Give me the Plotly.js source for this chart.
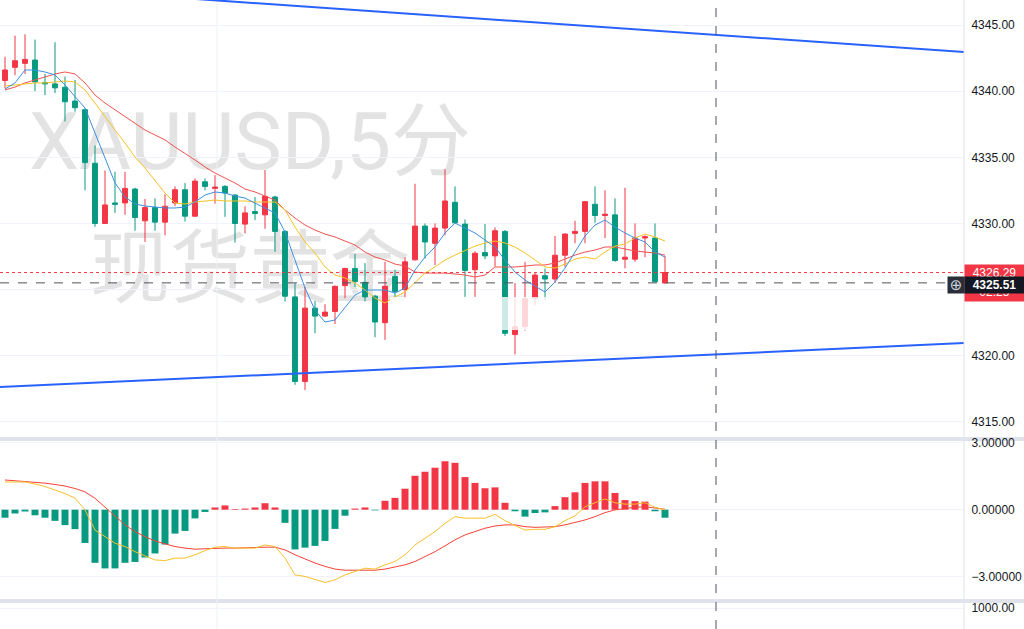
<!DOCTYPE html>
<html><head><meta charset="utf-8">
<script src="https://cdn.plot.ly/plotly-3.0.1.min.js"></script>
<style>html,body{margin:0;padding:0;background:#fff;}#chart{width:1024px;height:629px;}</style>
</head><body><div id="chart"></div>
<script>
// ---- data (XAUUSD 5-minute candles) ----
const openP  = [4340.8,4341.8,4342.1,4342.35,4340.65,4340.55,4340.3,4339.25,4338.6,4334.55,
  4330.0,4331.55,4331.55,4332.6,4330.2,4331.2,4330.1,4331.55,4332.55,4330.55,
  4333.15,4332.65,4332.8,4332.15,4329.95,4330.9,4330.65,4332.0,4329.4,4324.45,
  4318.05,4323.6,4323.0,4323.35,4325.3,4326.6,4325.55,4324.5,4322.5,4326.0,
  4325.0,4327.25,4329.8,4328.5,4329.65,4331.6,4329.95,4326.5,4327.8,4327.55,
  4329.4,4321.6,4322.2,4324.35,4326.05,4325.8,4327.6,4329.25,4329.4,4331.45,
  4330.6,4330.65,4327.3,4327.3,4328.9,4328.9,4325.5];
const highP  = [4342.6,4344.2,4344.3,4343.9,4341.3,4343.7,4341.1,4340.85,4338.7,4335.9,
  4334.0,4333.9,4333.9,4332.7,4331.85,4331.9,4332.2,4332.8,4333.05,4333.4,
  4333.4,4333.65,4332.9,4332.2,4331.3,4332.0,4334.05,4332.1,4329.5,4325.5,
  4325.2,4324.15,4323.9,4325.3,4326.65,4327.7,4327.0,4324.6,4327.1,4326.5,
  4327.45,4333.0,4330.0,4330.0,4334.1,4332.8,4330.3,4327.9,4329.95,4329.7,
  4329.5,4325.5,4327.1,4326.25,4326.6,4329.05,4329.25,4330.2,4331.7,4332.8,
  4332.5,4331.9,4332.7,4330.0,4329.1,4330.0,4327.55];
const lowP   = [4340.2,4341.2,4341.3,4340.0,4339.7,4339.85,4337.7,4338.45,4332.5,4329.75,
  4330.0,4330.8,4330.65,4329.45,4328.6,4329.45,4329.1,4331.3,4330.15,4330.5,
  4332.5,4331.5,4330.5,4328.55,4329.25,4330.25,4329.6,4327.85,4324.1,4317.8,
  4317.4,4321.7,4322.95,4322.4,4324.35,4325.2,4324.1,4321.4,4321.2,4324.35,
  4324.35,4327.2,4327.35,4326.85,4329.1,4330.0,4324.45,4324.45,4327.3,4326.75,
  4321.5,4320.1,4321.9,4323.8,4324.2,4325.5,4326.7,4328.5,4328.5,4330.05,
  4328.9,4327.1,4326.6,4327.1,4327.45,4325.55,4325.45];
const closeP = [4341.6,4342.3,4342.4,4340.7,4340.55,4340.25,4339.2,4338.75,4334.6,4330.0,
  4331.4,4331.45,4332.65,4330.45,4331.2,4330.1,4331.3,4332.55,4330.55,4333.2,
  4332.8,4332.75,4332.3,4330.0,4330.8,4330.75,4332.05,4329.4,4324.5,4318.05,
  4323.6,4323.0,4323.3,4325.25,4326.6,4325.6,4324.45,4322.55,4325.25,4324.85,
  4327.1,4329.8,4328.6,4329.65,4331.7,4330.05,4326.45,4327.75,4327.55,4329.45,
  4321.7,4322.2,4324.3,4326.1,4325.8,4327.6,4329.2,4329.4,4331.65,4330.6,
  4330.7,4327.2,4327.45,4328.9,4329.0,4325.6,4326.29];
const maFast = [4340.16,4340.62,4341.60,4341.60,4341.45,4341.22,4340.46,4339.56,4338.73,4336.84,
  4334.95,4333.06,4332.00,4331.47,4331.32,4331.24,4331.17,4331.17,4331.24,4331.62,
  4332.15,4332.38,4332.30,4332.07,4331.92,4331.54,4331.17,4330.79,4329.35,4327.23,
  4325.12,4323.45,4322.55,4322.70,4323.68,4324.59,4324.97,4324.97,4324.97,4324.74,
  4325.12,4326.48,4327.46,4328.22,4329.28,4330.03,4329.65,4329.28,4328.75,4328.22,
  4327.23,4326.33,4325.72,4325.27,4324.82,4325.57,4326.63,4327.84,4329.05,4329.88,
  4330.26,4329.73,4329.28,4328.90,4328.60,4327.84,4327.46];
const maMid = [4340.39,4340.46,4340.54,4340.62,4340.62,4340.69,4340.77,4340.69,4340.09,4339.10,
  4338.05,4337.06,4336.08,4335.02,4334.19,4333.28,4332.30,4331.55,4331.47,4331.62,
  4331.70,4331.77,4331.70,4331.70,4331.70,4331.62,4331.62,4331.62,4331.02,4329.73,
  4328.60,4327.77,4326.71,4326.10,4325.88,4325.50,4324.97,4324.36,4323.99,4324.44,
  4324.82,4325.57,4326.25,4326.71,4327.24,4327.61,4327.92,4328.29,4328.52,4328.67,
  4328.52,4328.22,4327.77,4327.24,4326.71,4326.63,4326.93,4327.31,4327.46,4327.31,
  4327.84,4328.29,4328.45,4328.90,4329.20,4328.97,4328.67];
const maSlow = [4340.09,4340.31,4340.62,4340.84,4341.07,4341.30,4341.45,4341.30,4340.62,4339.71,
  4339.10,4338.58,4338.05,4337.59,4337.06,4336.69,4336.31,4335.78,4335.32,4334.80,
  4334.27,4333.81,4333.43,4333.06,4332.60,4332.38,4332.07,4331.77,4331.02,4330.41,
  4329.88,4329.50,4329.20,4328.98,4328.67,4328.37,4327.84,4327.46,4327.24,4326.93,
  4326.78,4326.33,4326.25,4326.25,4326.25,4326.18,4326.10,4325.95,4326.10,4326.71,
  4326.71,4326.71,4326.78,4326.86,4326.86,4327.01,4327.31,4327.61,4327.84,4327.99,
  4328.22,4328.22,4328.07,4327.92,4327.84,4327.77,4327.61];
const macdHist = [-0.36,-0.17,-0.08,-0.25,-0.36,-0.50,-0.69,-0.87,-1.49,-2.38,
  -2.63,-2.63,-2.38,-2.34,-2.14,-1.96,-1.56,-1.07,-0.95,-0.39,
  -0.10,0.10,0.19,0.03,0.05,0.10,0.29,0.10,-0.59,-1.78,
  -1.70,-1.62,-1.40,-0.86,-0.27,0.05,0.10,-0.03,0.40,0.53,
  0.94,1.52,1.70,1.88,2.17,2.10,1.46,1.20,0.96,1.00,
  0.31,-0.07,-0.31,-0.15,-0.12,0.16,0.56,0.78,1.20,1.27,
  1.27,0.75,0.43,0.38,0.36,-0.07,-0.36];
const macdDif = [1.24,1.24,1.24,1.15,1.04,0.88,0.72,0.52,-0.01,-0.91,
  -1.21,-1.50,-1.65,-1.88,-2.07,-2.25,-2.28,-2.17,-2.17,-2.02,
  -1.83,-1.68,-1.65,-1.72,-1.72,-1.72,-1.58,-1.65,-2.17,-2.92,
  -2.99,-3.14,-3.26,-3.14,-2.92,-2.77,-2.62,-2.66,-2.47,-2.32,
  -2.02,-1.58,-1.28,-0.98,-0.61,-0.31,-0.38,-0.38,-0.38,-0.21,
  -0.49,-0.71,-0.91,-0.88,-0.88,-0.76,-0.49,-0.28,0.13,0.31,
  0.48,0.31,0.25,0.25,0.31,0.11,-0.01];
const macdDea = [1.33,1.30,1.28,1.24,1.19,1.13,1.06,0.95,0.80,0.51,
  0.13,-0.28,-0.68,-0.98,-1.21,-1.40,-1.53,-1.65,-1.72,-1.77,
  -1.75,-1.72,-1.72,-1.72,-1.70,-1.68,-1.68,-1.68,-1.80,-2.02,
  -2.21,-2.39,-2.54,-2.66,-2.71,-2.71,-2.71,-2.71,-2.66,-2.57,
  -2.47,-2.32,-2.10,-1.88,-1.62,-1.35,-1.13,-0.98,-0.83,-0.73,
  -0.68,-0.68,-0.76,-0.79,-0.79,-0.76,-0.68,-0.58,-0.46,-0.31,
  -0.13,-0.01,0.06,0.11,0.13,0.09,0.02];
const upperTrendX = [0, 96];
const upperTrendY = [4347.96, 4342.96];
const lowerTrendX = [-0.5, 95.9];
const lowerTrendY = [4317.64, 4320.96];
const priceTicks = [4315, 4320, 4325, 4330, 4335, 4340, 4345];
const macdTicks = [-3, 0, 3];
const volTicks = [1000];
const lastPrice = 4326.29;
const crossPrice = 4325.51;
const countdown = '02:25';
const watermark1 = 'XAUUSD,5分';
const watermark2 = '现货黄金';

const barIndex = openP.map((_, i) => i);
const UP = '#f23645', DOWN = '#089981';
const tickFont = {family: 'Liberation Sans, Arial, sans-serif', size: 12, color: '#131722'};
const H = 629, W = 964;
const py = px => 1 - px / H;
const pxX = px => px / W;

const traces = [
  {type: 'candlestick', x: barIndex, open: openP, high: highP, low: lowP, close: closeP,
   increasing: {line: {color: UP, width: 1}, fillcolor: UP},
   decreasing: {line: {color: DOWN, width: 1}, fillcolor: DOWN},
   whiskerwidth: 0, hoverinfo: 'skip', xaxis: 'x', yaxis: 'y'},
  {type: 'scatter', mode: 'lines', x: barIndex, y: maSlow, line: {color: '#ef5350', width: 1}, hoverinfo: 'skip', yaxis: 'y'},
  {type: 'scatter', mode: 'lines', x: barIndex, y: maMid, line: {color: '#f7c325', width: 1}, hoverinfo: 'skip', yaxis: 'y'},
  {type: 'scatter', mode: 'lines', x: barIndex, y: maFast, line: {color: '#3d8fe0', width: 1}, hoverinfo: 'skip', yaxis: 'y'},
  {type: 'scatter', mode: 'lines', x: upperTrendX, y: upperTrendY, line: {color: '#2962ff', width: 2}, hoverinfo: 'skip', yaxis: 'y'},
  {type: 'scatter', mode: 'lines', x: lowerTrendX, y: lowerTrendY, line: {color: '#2962ff', width: 2}, hoverinfo: 'skip', yaxis: 'y'},
  {type: 'bar', x: barIndex, y: macdHist, marker: {color: macdHist.map(v => v >= 0 ? UP : DOWN)}, hoverinfo: 'skip', yaxis: 'y2'},
  {type: 'scatter', mode: 'lines', x: barIndex, y: macdDea, line: {color: '#f44336', width: 1}, hoverinfo: 'skip', yaxis: 'y2'},
  {type: 'scatter', mode: 'lines', x: barIndex, y: macdDif, line: {color: '#fbc02d', width: 1}, hoverinfo: 'skip', yaxis: 'y2'},
  // empty trace so the volume pane (axis y3) is created and its tick label drawn
  {type: 'scatter', mode: 'lines', x: [], y: [], hoverinfo: 'skip', yaxis: 'y3'}
];

const wmFont = {family: 'Roboto, "Noto Sans CJK SC", sans-serif', size: 80, color: '#e3e3e3'};
const shapes = [
  {type: 'rect', xref: 'paper', yref: 'paper', x0: 0, x1: 1024 / W, y0: py(441), y1: py(437),
   line: {width: 0}, fillcolor: '#e0e3eb', layer: 'below'},
  {type: 'rect', xref: 'paper', yref: 'paper', x0: 0, x1: 1024 / W, y0: py(603), y1: py(599),
   line: {width: 0}, fillcolor: '#e0e3eb', layer: 'below'},
  {type: 'rect', xref: 'paper', yref: 'paper', x0: pxX(30), x1: pxX(470), y0: py(172), y1: py(100),
   line: {width: 0}, fillcolor: 'rgba(0,0,0,0)', layer: 'below',
   label: {text: watermark1, font: wmFont, textposition: 'middle center'}},
  {type: 'rect', xref: 'paper', yref: 'paper', x0: pxX(80), x1: pxX(420), y0: py(305), y1: py(220),
   line: {width: 0}, fillcolor: 'rgba(0,0,0,0)', layer: 'below',
   label: {text: watermark2, font: wmFont, textposition: 'middle center'}},
  {type: 'line', xref: 'paper', yref: 'paper', x0: pxX(217), x1: pxX(217), y0: 0, y1: 1,
   line: {color: '#eef0f5', width: 1}, layer: 'below'},
  {type: 'rect', xref: 'paper', yref: 'paper', x0: pxX(390), x1: pxX(625), y0: py(330), y1: py(297),
   line: {width: 0}, fillcolor: 'rgba(255,255,255,0.8)', layer: 'above'},
  {type: 'line', xref: 'paper', yref: 'y', x0: 0, x1: 1, y0: lastPrice, y1: lastPrice,
   line: {color: UP, width: 1, dash: 'dot'}},
  {type: 'line', xref: 'paper', yref: 'y', x0: 0, x1: pxX(947), y0: crossPrice, y1: crossPrice,
   line: {color: '#50535e', width: 1, dash: 'dash'}},
  {type: 'line', xref: 'paper', yref: 'paper', x0: pxX(716), x1: pxX(716), y0: 0, y1: 1,
   line: {color: '#50535e', width: 1, dash: 'dash'}},
  {type: 'line', xref: 'paper', yref: 'paper', x0: 1, x1: 1, y0: 0, y1: 1,
   line: {color: '#e0e3eb', width: 1}}
];

const labelFont = {family: 'Liberation Sans, Arial, sans-serif', size: 12, color: '#ffffff'};
const annotations = [
  {xref: 'paper', yref: 'paper', x: 1, y: py(291), xanchor: 'left', yanchor: 'middle',
   text: countdown, showarrow: false, bgcolor: UP, width: 59, height: 19, borderpad: 0,
   font: labelFont, align: 'center'},
  {xref: 'paper', yref: 'paper', x: 1, y: py(273), xanchor: 'left', yanchor: 'middle',
   text: lastPrice.toFixed(2), showarrow: false, bgcolor: UP, width: 59, height: 16, borderpad: 0,
   font: labelFont, align: 'center'},
  {xref: 'paper', yref: 'paper', x: pxX(947), y: py(285), xanchor: 'left', yanchor: 'middle',
   text: '⊕', showarrow: false, bgcolor: '#2a2e39', width: 16, height: 16, borderpad: 0,
   font: {family: 'DejaVu Sans, sans-serif', size: 15, color: '#d1d4dc'}, align: 'center'},
  {xref: 'paper', yref: 'paper', x: 1, y: py(285), xanchor: 'left', yanchor: 'middle',
   text: '<b>' + crossPrice.toFixed(2) + '</b>', showarrow: false, bgcolor: '#131722', width: 59, height: 16, borderpad: 0,
   font: labelFont, align: 'center'}
];

const axisCommon = {side: 'right', anchor: 'x', zeroline: false, showline: false,
  ticks: 'outside', ticklen: 4, tickcolor: 'rgba(0,0,0,0)', gridcolor: '#f0f3fa',
  tickfont: tickFont, fixedrange: true};

const layout = {
  width: 1024, height: 629,
  margin: {l: 0, r: 60, t: 0, b: 0, pad: 0},
  paper_bgcolor: '#ffffff', plot_bgcolor: '#ffffff',
  showlegend: false, bargap: 0.3, hovermode: false,
  xaxis: {range: [-0.5, 95.9], showgrid: false, zeroline: false, showticklabels: false,
    showline: false, ticks: '', rangeslider: {visible: false}, fixedrange: true, anchor: 'y3'},
  yaxis: Object.assign({}, axisCommon, {domain: [py(437), 1], range: [4313.86, 4346.89],
    tickvals: priceTicks, tickformat: '.2f'}),
  yaxis2: Object.assign({}, axisCommon, {domain: [py(599), py(441)], range: [-4.0, 3.077],
    tickvals: macdTicks, tickformat: '.5f'}),
  yaxis3: Object.assign({}, axisCommon, {domain: [0, py(603)], range: [0, 1238],
    tickvals: volTicks, tickformat: '.2f'}),
  shapes: shapes,
  annotations: annotations
};

Plotly.newPlot('chart', traces, layout, {displayModeBar: false, staticPlot: true});
</script>
</body></html>
